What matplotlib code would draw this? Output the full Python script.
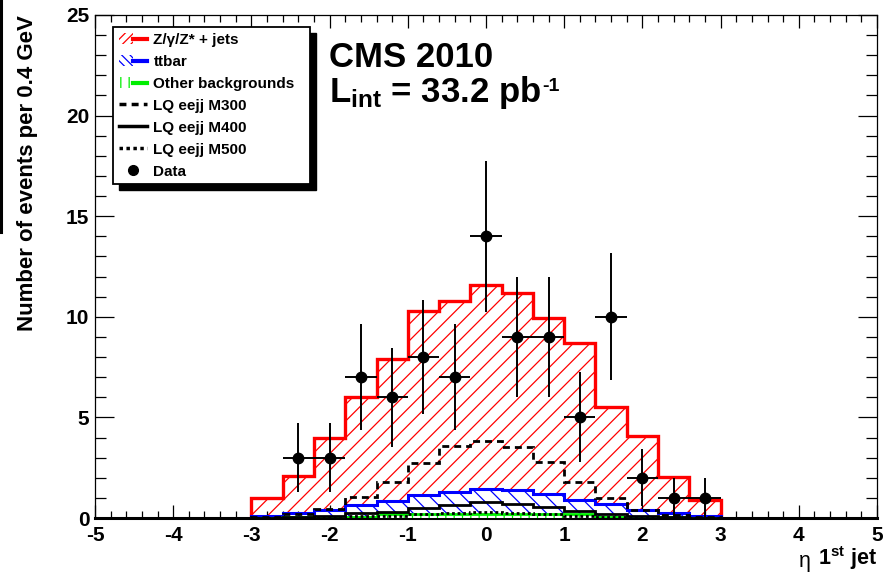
#!/usr/bin/env python3
"""Eta of the leading jet in the eejj selection, CMS 2010 style plot."""
import numpy as np
import matplotlib
matplotlib.use("Agg")
import matplotlib.pyplot as plt
from matplotlib.lines import Line2D
from matplotlib.patches import Patch, Rectangle
from matplotlib.legend_handler import HandlerTuple

plt.rcParams["font.family"] = ["Liberation Sans", "DejaVu Sans"]
plt.rcParams["font.weight"] = "bold"
plt.rcParams["axes.unicode_minus"] = False
plt.rcParams["mathtext.fontset"] = "custom"
plt.rcParams["mathtext.rm"] = "Liberation Sans:bold"
plt.rcParams["mathtext.it"] = "Liberation Sans:bold"
plt.rcParams["mathtext.bf"] = "Liberation Sans:bold"
plt.rcParams["hatch.linewidth"] = 0.9

# 0.4 wide bins in eta
bin_edges = [-3.0, -2.6, -2.2, -1.8, -1.4, -1.0, -0.6, -0.2,
             0.2, 0.6, 1.0, 1.4, 1.8, 2.2, 2.6, 3.0]

# backgrounds (per bin, not stacked)
other_bkg = [0.02, 0.04, 0.05, 0.06, 0.18, 0.2, 0.2, 0.21,
             0.2, 0.2, 0.18, 0.06, 0.05, 0.03, 0.02]
ttbar = [0.08, 0.19, 0.35, 0.59, 0.68, 0.94, 1.11, 1.23,
         1.19, 0.99, 0.71, 0.62, 0.35, 0.2, 0.1]
zjets = [0.9, 1.87, 3.6, 5.35, 7.04, 9.16, 9.49, 10.16,
         9.81, 8.76, 7.81, 4.82, 3.7, 1.82, 0.78]

# leptoquark signals
lq_m300 = [0.05, 0.2, 0.43, 1.06, 1.77, 2.72, 3.58, 3.84,
           3.55, 2.8, 1.81, 0.98, 0.4, 0.15, 0.05]
lq_m400 = [0.02, 0.05, 0.1, 0.25, 0.3, 0.48, 0.65, 0.8,
           0.7, 0.55, 0.35, 0.2, 0.08, 0.04, 0.02]
lq_m500 = [0.01, 0.02, 0.04, 0.08, 0.12, 0.18, 0.25, 0.3,
           0.27, 0.2, 0.12, 0.07, 0.04, 0.02, 0.01]

# data
data_eta = [-2.4, -2.0, -1.6, -1.2, -0.8, -0.4, 0.0, 0.4, 0.8, 1.2, 1.6, 2.0, 2.4, 2.8]
data_counts = [3, 3, 7, 6, 8, 7, 14, 9, 9, 5, 10, 2, 1, 1]

W, H = 894, 575


def px(x, y):
    """pixel position (from top left) -> figure fraction"""
    return x / W, 1 - y / H


fig = plt.figure(figsize=(W / 100, H / 100), dpi=100)
ax = fig.add_axes([95 / W, 1 - 518 / H, (877 - 95) / W, (518 - 15) / H])

edges = np.array(bin_edges)
stack_other = np.array(other_bkg)
stack_tt = stack_other + np.array(ttbar)
stack_z = stack_tt + np.array(zjets)

RED, BLUE, GREEN = "#ff0000", "#0000ff", "#00ee00"

# stacked backgrounds
ax.stairs(stack_z, edges, fill=True, facecolor="white", edgecolor=RED, hatch="//", lw=0, zorder=1)
ax.stairs(stack_z, edges, color=RED, lw=2.4, zorder=2)
ax.stairs(stack_tt, edges, fill=True, facecolor="white", edgecolor=BLUE, hatch="\\\\", lw=0, zorder=3)
ax.stairs(stack_tt, edges, color=BLUE, lw=2.2, zorder=4)
ax.stairs(stack_other, edges, fill=True, facecolor="white", edgecolor=GREEN, hatch="||", lw=0, zorder=5)
ax.stairs(stack_other, edges, color=GREEN, lw=2.0, zorder=6)

# signals
ax.stairs(lq_m300, edges, color="k", lw=2.0, ls=(0, (2.5, 1.8)), zorder=7)
ax.stairs(lq_m400, edges, color="k", lw=2.0, zorder=7)
ax.stairs(lq_m500, edges, color="k", lw=2.0, ls=(0, (1, 1)), zorder=7)

# data with sqrt(N) errors
counts = np.array(data_counts, dtype=float)
ax.errorbar(data_eta, counts, yerr=np.sqrt(counts), xerr=np.diff(edges)[0] / 2,
            fmt="o", color="k", ms=7.5, elinewidth=1.4, capsize=0, zorder=10)

ax.set_xlim(-5, 5)
ax.set_ylim(0, 25)
ax.set_xticks(range(-5, 6))
ax.set_xticks(np.arange(-5, 5.01, 0.2), minor=True)
ax.set_yticks(range(0, 26, 5))
ax.set_yticks(range(0, 26), minor=True)
ax.tick_params(which="both", direction="in", top=True, right=True, width=0.9, labelsize=15)
ax.tick_params(axis="x", which="major", length=9.5, pad=6)
ax.tick_params(axis="x", which="minor", length=4.8)
ax.tick_params(axis="y", which="major", length=14, pad=4)
ax.tick_params(axis="y", which="minor", length=8)
for s in ax.spines.values():
    s.set_linewidth(0.9)
ax.spines["bottom"].set_linewidth(2.2)

# axis titles
fig.text(*px(28, 173), "Number of events per 0.4 GeV", rotation=90,
         ha="center", va="center", fontsize=16, weight="bold")
xlab = fig.text(*px(877, 565), r"1$^{st}$ jet", ha="right", va="baseline",
                fontsize=15.5, weight="bold")
ax.annotate("\u03b7", xy=(0, 0), xycoords=xlab, xytext=(-5, 0), textcoords="offset points",
            ha="right", va="bottom", fontsize=15.5, weight="normal", annotation_clip=False)

# CMS labels
fig.text(*px(329, 66.7), "CMS 2010", fontsize=25, weight="bold", va="baseline")
lumi = fig.text(*px(329, 101.7), r"L$_{int}$ = 33.2 pb", fontsize=25, weight="bold",
                va="baseline")
ax.annotate("-1", xy=(1, 1), xycoords=lumi, xytext=(1, -3), textcoords="offset points",
            ha="left", va="top", fontsize=14, weight="bold", annotation_clip=False)

# legend box with ROOT-like shadow
x0, y0 = px(113, 184)
bw, bh = (310 - 113) / W, (184 - 27) / H
ax.add_artist(Rectangle((x0 + 6 / W, y0 - 6 / H), bw, bh, transform=fig.transFigure,
                        facecolor="k", edgecolor="k", clip_on=False, zorder=8))
ax.add_artist(Rectangle((x0, y0), bw, bh, transform=fig.transFigure,
                        facecolor="white", edgecolor="k", lw=1.3, clip_on=False, zorder=8.5))

handles = [
    (Patch(facecolor="white", edgecolor=RED, hatch="////", lw=0), Line2D([], [], color=RED, lw=3)),
    (Patch(facecolor="white", edgecolor=BLUE, hatch="\\\\\\\\", lw=0), Line2D([], [], color=BLUE, lw=3)),
    (Patch(facecolor="white", edgecolor=GREEN, hatch="||", lw=0), Line2D([], [], color=GREEN, lw=3)),
    Line2D([], [], color="k", lw=2.5, ls=(0, (2, 1.5))),
    Line2D([], [], color="k", lw=2.5),
    Line2D([], [], color="k", lw=2.5, ls=(0, (1, 1))),
    Line2D([], [], ls="none", marker="o", color="k", ms=7),
]
labels = ["Z/\u03b3/Z* + jets", "ttbar", "Other backgrounds", "LQ eejj M300",
          "LQ eejj M400", "LQ eejj M500", "Data"]
leg = ax.legend(handles, labels, handler_map={tuple: HandlerTuple(ndivide=None, pad=0)},
                loc="upper left", bbox_to_anchor=px(119, 33), bbox_transform=fig.transFigure,
                frameon=False, borderpad=0, borderaxespad=0, fontsize=11,
                handlelength=1.85, handletextpad=0.4, labelspacing=0.52)
leg.set_zorder(9)

# stray frame edge at the left of the canvas
fig.add_artist(Line2D([1.2 / W, 1.2 / W], [1, 1 - 232 / H], color="k", lw=2.2))

fig.savefig("out.png", dpi=100)
